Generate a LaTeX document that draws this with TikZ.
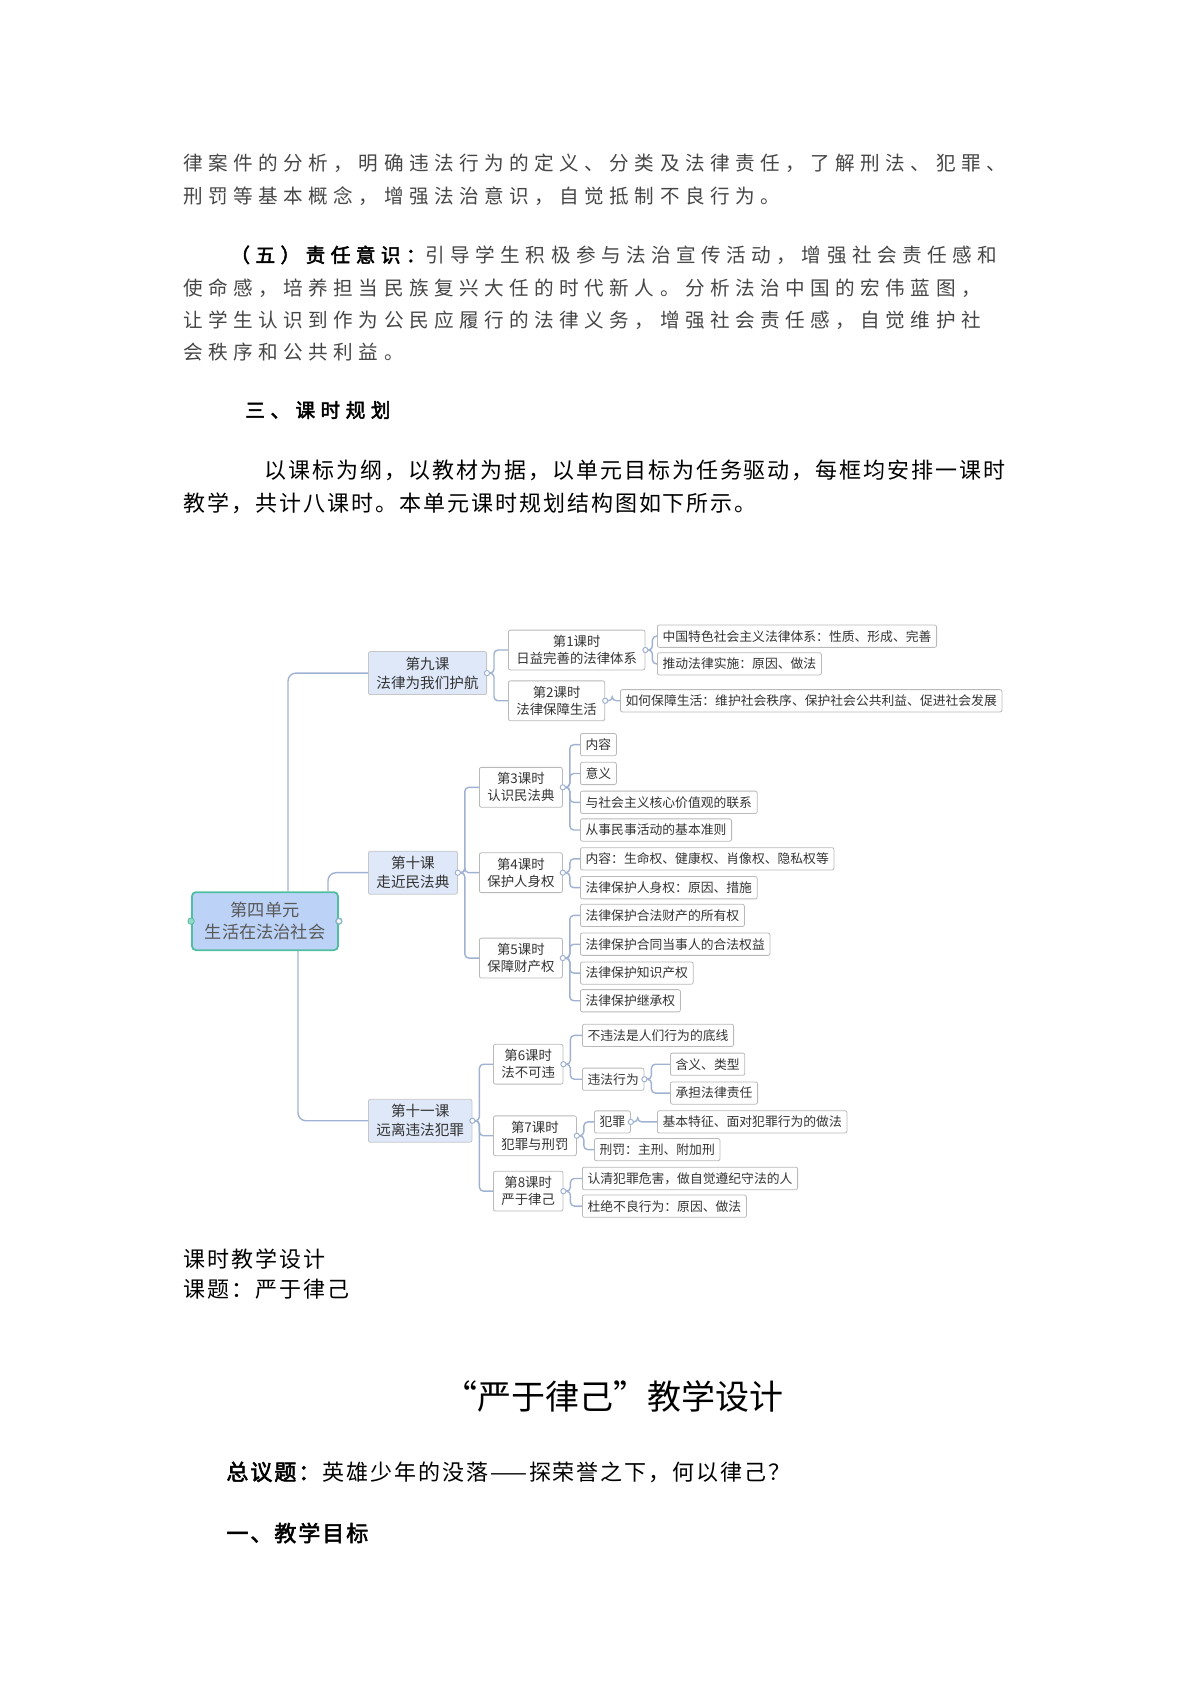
\documentclass[tikz,border=0pt]{standalone}
\usepackage{fontspec}
\setmainfont{Noto Sans CJK SC}[AutoFakeBold=2.5]
\newfontfamily\cjkwide{Noto Sans CJK SC}[LetterSpace=28,AutoFakeBold=2.5]
\newfontfamily\cjkplain{Noto Sans CJK SC}[LetterSpace=9,AutoFakeBold=2.5]
\usetikzlibrary{positioning}
\definecolor{linkc}{RGB}{160,178,210}
\definecolor{coursefill}{RGB}{222,232,248}
\definecolor{rootfill}{RGB}{188,210,246}
\definecolor{rootline}{RGB}{80,190,160}
\definecolor{bodygray}{RGB}{70,70,70}
\tikzset{
  leaf/.style={draw=gray!55, fill=white, rounded corners=1pt, anchor=west, minimum height=10.5pt, inner sep=2.6pt, font=\fontsize{6.4}{7}\selectfont, text=black!80},
  lesson/.style={leaf, align=center, minimum height=19pt, inner xsep=4pt, font=\fontsize{6.7}{8.5}\selectfont},
  course/.style={leaf, align=center, fill=coursefill, draw=gray!45, minimum height=21pt, inner xsep=4pt, font=\fontsize{7.3}{9.5}\selectfont},
  root/.style={draw=rootline, line width=0.9pt, fill=rootfill, rounded corners=2pt, align=center, minimum width=73pt, minimum height=29pt, font=\fontsize{8.6}{11}\selectfont, text=black!65},
  link/.style={draw=linkc, line width=0.7pt, rounded corners=2pt},
  fold/.style={draw=linkc, fill=white, line width=0.5pt},
  body/.style={anchor=west, inner sep=0pt, font=\cjkwide\fontsize{9.8}{12}\selectfont, text=bodygray},
  plain/.style={anchor=west, inner sep=0pt, font=\cjkplain\fontsize{11}{13}\selectfont, text=black}
}
\newcommand{\branch}[2]{\draw[link] (#1.east) -- ++(7,0) |- (#2.west);}
\newcommand{\foldmark}[1]{\draw[fold] (#1.east) circle (1.3pt);}
\begin{document}
\begin{tikzpicture}[x=0.5pt, y=-0.5pt]
    \useasboundingbox (0,0) rectangle (1200,1697);

    % Text above the map
    \node[body] (t1) at (183,163) {律案件的分析，明确违法行为的定义、分类及法律责任，了解刑法、犯罪、};
    \node[body] (t2) at (183,196) {刑罚等基本概念，增强法治意识，自觉抵制不良行为。};
    \node[body] (t3) at (230,255) {\textbf{\textcolor{black}{（五）责任意识：}}引导学生积极参与法治宣传活动，增强社会责任感和};
    \node[body] (t4) at (183,288) {使命感，培养担当民族复兴大任的时代新人。分析法治中国的宏伟蓝图，};
    \node[body] (t5) at (183,320) {让学生认识到作为公民应履行的法律义务，增强社会责任感，自觉维护社};
    \node[body] (t6) at (183,352) {会秩序和公共利益。};
    \node[body, text=black] (t7) at (245,410) {\textbf{三、课时规划}};
    \node[plain] (t8) at (264,470) {以课标为纲，以教材为据，以单元目标为任务驱动，每框均安排一课时};
    \node[plain] (t9) at (183,503) {教学，共计八课时。本单元课时规划结构图如下所示。};

    % Structure map
    \begin{scope}[y=-0.5769pt, yshift=47.68pt]
    \node[root] (unit) at (265,881) {第四单元\\生活在法治社会};
    \node[course] (k9) at (368,666) {第九课\\法律为我们护航};
    \node[course] (k10) at (368,839) {第十课\\走近民法典};
    \node[course] (k11) at (368,1054) {第十一课\\远离违法犯罪};
    \draw[link, rounded corners=4pt] ([xshift=11.5pt]unit.north) |- (k9.west);
    \draw[link, rounded corners=4pt] ([xshift=31.5pt]unit.north) |- (k10.west);
    \draw[link, rounded corners=4pt] ([xshift=16.5pt]unit.south) |- (k11.west);
    \draw[fill=rootline!60, draw=rootline] (unit.west) circle (1.6pt) (unit.east) circle (1.6pt);

    % Lessons
    \node[lesson] (c1) at (508,646) {第1课时\\日益完善的法律体系};
    \node[lesson] (c2) at (508,690) {第2课时\\法律保障生活};
    \node[lesson] (c3) at (479,765) {第3课时\\认识民法典};
    \node[lesson] (c4) at (479,839) {第4课时\\保护人身权};
    \node[lesson] (c5) at (479,913) {第5课时\\保障财产权};
    \node[lesson] (c6) at (493,1005) {第6课时\\法不可违};
    \node[lesson] (c7) at (493,1067) {第7课时\\犯罪与刑罚};
    \node[lesson] (c8) at (493,1115) {第8课时\\严于律己};
    \foreach \p/\c in {k9/c1,k9/c2,k10/c3,k10/c4,k10/c5,k11/c6,k11/c7,k11/c8}
        \branch{\p}{\c};

    % Leaves
    \node[leaf] (l1a) at (657,634) {中国特色社会主义法律体系：性质、形成、完善};
    \node[leaf] (l1b) at (657,658) {推动法律实施：原因、做法};
    \node[leaf] (l2) at (620,690) {如何保障生活：维护社会秩序、保护社会公共利益、促进社会发展};
    \node[leaf] (l3a) at (580,728) {内容};
    \node[leaf] (l3b) at (580,753) {意义};
    \node[leaf] (l3c) at (580,778) {与社会主义核心价值观的联系};
    \node[leaf] (l3d) at (580,802) {从事民事活动的基本准则};
    \node[leaf] (l4a) at (580,827) {内容：生命权、健康权、肖像权、隐私权等};
    \node[leaf] (l4b) at (580,852) {法律保护人身权：原因、措施};
    \node[leaf] (l5a) at (580,876) {法律保护合法财产的所有权};
    \node[leaf] (l5b) at (580,901) {法律保护合同当事人的合法权益};
    \node[leaf] (l5c) at (580,926) {法律保护知识产权};
    \node[leaf] (l5d) at (580,950) {法律保护继承权};
    \node[leaf] (l6a) at (582,980) {不违法是人们行为的底线};
    \node[leaf] (l6b) at (582,1018) {违法行为};
    \node[leaf] (l6b1) at (670,1005) {含义、类型};
    \node[leaf] (l6b2) at (670,1030) {承担法律责任};
    \node[leaf] (l7a) at (594,1055) {犯罪};
    \node[leaf] (l7a1) at (657,1055) {基本特征、面对犯罪行为的做法};
    \node[leaf] (l7b) at (594,1079) {刑罚：主刑、附加刑};
    \node[leaf] (l8a) at (582,1104) {认清犯罪危害，做自觉遵纪守法的人};
    \node[leaf] (l8b) at (582,1128) {杜绝不良行为：原因、做法};
    \foreach \p/\c in {c1/l1a,c1/l1b,c2/l2,c3/l3a,c3/l3b,c3/l3c,c3/l3d,c4/l4a,c4/l4b,
        c5/l5a,c5/l5b,c5/l5c,c5/l5d,c6/l6a,c6/l6b,l6b/l6b1,l6b/l6b2,c7/l7a,c7/l7b,
        l7a/l7a1,c8/l8a,c8/l8b}
        \branch{\p}{\c};
    \foreach \p in {k9,k10,k11,c1,c2,c3,c4,c5,c6,c7,c8,l6b,l7a,unit}
        \foldmark{\p};
    \end{scope}

    % Text below the map
    \node[plain] (d1) at (183,1259) {课时教学设计};
    \node[plain] (d2) at (183,1289) {课题：严于律己};
    \node[anchor=center, inner sep=0pt, font=\fontsize{17}{20}\selectfont] (title) at (613,1396) {“严于律己”教学设计};
    \node[plain] (d3) at (226,1472) {\textbf{总议题：}英雄少年的没落——探荣誉之下，何以律己？};
    \node[plain] (d4) at (226,1533) {\textbf{一、教学目标}};
\end{tikzpicture}
\end{document}
